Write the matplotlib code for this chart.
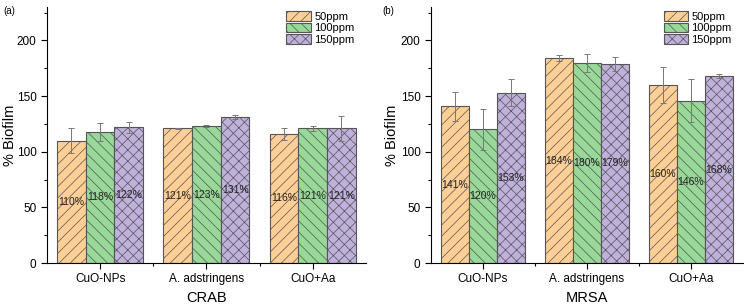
import numpy as np
import matplotlib.pyplot as plt

categories = ['CuO-NPs', 'A. adstringens', 'CuO+Aa']
doses = ['50ppm', '100ppm', '150ppm']

crab_vals = [[110, 121, 116], [118, 123, 121], [122, 131, 121]]
crab_err = [[11, 0.5, 5], [8, 1, 2], [5, 2, 11]]
mrsa_vals = [[141, 184, 160], [120, 180, 146], [153, 179, 168]]
mrsa_err = [[13, 2.5, 16], [18, 8, 19], [12, 6, 2]]

colors = ['#FFCF96', '#98D898', '#BFB0DC']
hatches = ['///', '\\\\\\', 'xxx']

plt.rcParams['font.family'] = 'Liberation Sans'
plt.rcParams['hatch.linewidth'] = 0.5


def draw_panel(ax, vals, errs, xlabel, label_x):
    x = np.arange(len(categories))
    w = 0.27
    for i in range(len(doses)):
        pos = x + (i - 1) * w
        bars = ax.bar(pos, vals[i], w, color=colors[i], edgecolor='#555555',
                      linewidth=0.8, hatch=hatches[i], label=doses[i], zorder=2)
        ax.errorbar(pos, vals[i], yerr=errs[i], fmt='none', ecolor='#777777',
                    elinewidth=0.7, capsize=2, capthick=0.7, zorder=3)
        for b, v in zip(bars, vals[i]):
            ax.text(b.get_x() + b.get_width() / 2, v / 2, '%d%%' % v,
                    ha='center', va='center', fontsize=7.5, color='#222222', zorder=4)
    ax.set_xlim(-0.5, 2.5)
    ax.set_ylim(0, 230)
    ax.set_xticks(x)
    ax.set_xticklabels(categories, fontsize=8.5)
    ax.set_xticks([0.5, 1.5], minor=True)
    ax.set_yticks([0, 50, 100, 150, 200])
    ax.set_yticks(np.arange(25, 230, 50), minor=True)
    ax.tick_params(axis='y', labelsize=8.5)
    ax.tick_params(which='major', length=4, width=0.8)
    ax.tick_params(which='minor', length=2.5, width=0.8)
    ax.spines['top'].set_visible(False)
    ax.spines['right'].set_visible(False)
    ax.set_ylabel('% Biofilm', fontsize=10.5)
    ax.yaxis.set_label_coords(label_x, 0.5)
    ax.set_xlabel(xlabel, fontsize=10.5)
    ax.legend(loc='upper right', bbox_to_anchor=(0.985, 1.01), frameon=False,
              fontsize=8, handlelength=2.2, handleheight=1.0,
              labelspacing=0.05, handletextpad=0.3, borderaxespad=0.2)
    return ax


fig = plt.figure(figsize=(7.52, 3.08), dpi=100)
ax1 = fig.add_axes([0.0625, 0.146, 0.424, 0.831])
ax2 = fig.add_axes([0.573, 0.146, 0.415, 0.831])
draw_panel(ax1, crab_vals, crab_err, 'CRAB', -0.094)
draw_panel(ax2, mrsa_vals, mrsa_err, 'MRSA', -0.103)
fig.text(0.004, 0.955, '(a)', fontsize=7)
fig.text(0.508, 0.955, '(b)', fontsize=7)

fig.savefig('out.png', dpi=100)
